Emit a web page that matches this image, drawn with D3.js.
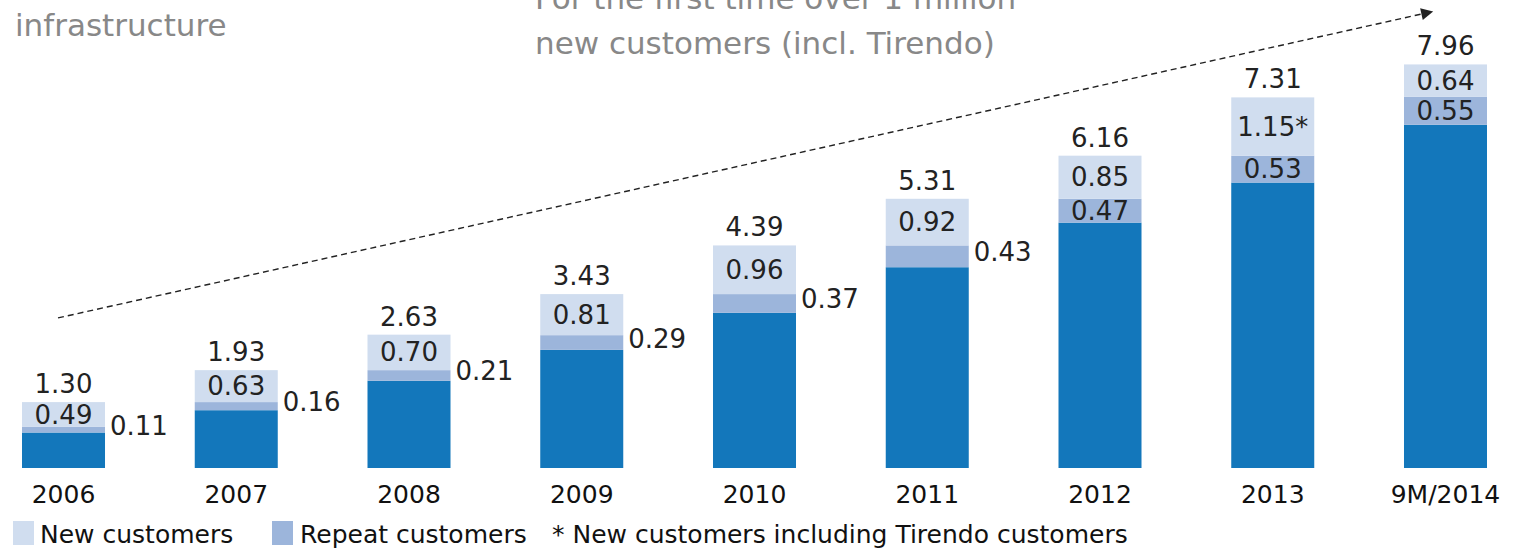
<!DOCTYPE html>
<html>
<head>
<meta charset="utf-8">
<script src="https://cdn.jsdelivr.net/npm/d3@7"></script>
<style>
  html, body { margin: 0; padding: 0; background: #fff; }
  svg { display: block; font-family: "DejaVu Sans", sans-serif; }
</style>
</head>
<body>
<div id="chart"></div>
<script>
const years = ["2006", "2007", "2008", "2009", "2010", "2011", "2012", "2013", "9M/2014"];
const totals = [1.30, 1.93, 2.63, 3.43, 4.39, 5.31, 6.16, 7.31, 7.96];
const newCust = [0.49, 0.63, 0.70, 0.81, 0.96, 0.92, 0.85, 1.15, 0.64];
const repeatCust = [0.11, 0.16, 0.21, 0.29, 0.37, 0.43, 0.47, 0.53, 0.55];
const newLabels = ["0.49", "0.63", "0.70", "0.81", "0.96", "0.92", "0.85", "1.15*", "0.64"];
// repeat label sits beside the bar up to 2011, inside it afterwards
const repeatInside = [false, false, false, false, false, false, true, true, true];

const width = 1522, height = 548;
const colors = { base: "#1377bb", repeat: "#9cb5db", fresh: "#d0ddef" };

const svg = d3.select("#chart").append("svg")
  .attr("width", width)
  .attr("height", height);

const x = d3.scaleBand()
  .domain(years)
  .range([22, 1487])
  .paddingInner(0.5195)
  .paddingOuter(0);

const y = d3.scaleLinear()
  .domain([0, 8])
  .range([468, 468 - 8 * 50.7]);

const data = years.map((yr, i) => ({
  year: yr,
  total: totals[i],
  fresh: newCust[i],
  repeat: repeatCust[i],
  base: totals[i] - newCust[i] - repeatCust[i],
  newLabel: newLabels[i],
  inside: repeatInside[i]
}));

const bars = svg.append("g").selectAll("g")
  .data(data)
  .enter()
  .append("g");

// base segment
bars.append("rect")
  .attr("x", d => x(d.year))
  .attr("width", x.bandwidth())
  .attr("y", d => y(d.base))
  .attr("height", d => y(0) - y(d.base))
  .attr("fill", colors.base);

// repeat customers
bars.append("rect")
  .attr("x", d => x(d.year))
  .attr("width", x.bandwidth())
  .attr("y", d => y(d.base + d.repeat))
  .attr("height", d => y(d.base) - y(d.base + d.repeat))
  .attr("fill", colors.repeat);

// new customers
bars.append("rect")
  .attr("x", d => x(d.year))
  .attr("width", x.bandwidth())
  .attr("y", d => y(d.total))
  .attr("height", d => y(d.base + d.repeat) - y(d.total))
  .attr("fill", colors.fresh);

const labelFont = 26;

// totals
bars.append("text")
  .attr("x", d => x(d.year) + x.bandwidth() / 2)
  .attr("y", d => y(d.total) - 9)
  .attr("text-anchor", "middle")
  .attr("font-size", labelFont)
  .attr("fill", "#222")
  .text(d => d.total.toFixed(2));

// new customer labels
bars.append("text")
  .attr("x", d => x(d.year) + x.bandwidth() / 2)
  .attr("y", d => (y(d.total) + y(d.base + d.repeat)) / 2 + 9)
  .attr("text-anchor", "middle")
  .attr("font-size", labelFont)
  .attr("fill", "#222")
  .text(d => d.newLabel);

// repeat customer labels
bars.append("text")
  .attr("x", d => d.inside ? x(d.year) + x.bandwidth() / 2 : x(d.year) + x.bandwidth() + 5)
  .attr("y", d => {
    const mid = (y(d.base) + y(d.base + d.repeat)) / 2;
    return d.inside ? mid + 9 : mid + 5;
  })
  .attr("text-anchor", d => d.inside ? "middle" : "start")
  .attr("font-size", labelFont)
  .attr("fill", "#222")
  .text(d => d.repeat.toFixed(2));

// category axis labels
svg.append("g").selectAll("text")
  .data(years)
  .enter()
  .append("text")
  .attr("x", d => x(d) + x.bandwidth() / 2)
  .attr("y", 503)
  .attr("text-anchor", "middle")
  .attr("font-size", 25)
  .attr("fill", "#111")
  .text(d => d);

// dashed trend arrow
svg.append("defs").append("marker")
  .attr("id", "arrow")
  .attr("viewBox", "0 0 10 10")
  .attr("refX", 9)
  .attr("refY", 5)
  .attr("markerWidth", 6)
  .attr("markerHeight", 6)
  .attr("markerUnits", "userSpaceOnUse")
  .attr("orient", "auto")
  .append("path")
  .attr("d", "M0,0 L10,5 L0,10 z")
  .attr("fill", "#222");

svg.select("#arrow").attr("markerWidth", 16).attr("markerHeight", 12);

svg.append("line")
  .attr("x1", x("2006") + 36)
  .attr("y1", y(2.96))
  .attr("x2", x("9M/2014") + 28)
  .attr("y2", y(9.0))
  .attr("stroke", "#222")
  .attr("stroke-width", 1.4)
  .attr("stroke-dasharray", "6,4")
  .attr("marker-end", "url(#arrow)");

// annotations (cropped in the original)
svg.append("text")
  .attr("x", 15)
  .attr("y", 36)
  .attr("font-size", 31)
  .attr("fill", "#888")
  .text("infrastructure");

svg.append("text")
  .attr("x", 535)
  .attr("y", 9)
  .attr("font-size", 31)
  .attr("fill", "#888")
  .text("For the first time over 1 million");

svg.append("text")
  .attr("x", 535)
  .attr("y", 54)
  .attr("font-size", 31)
  .attr("fill", "#888")
  .text("new customers (incl. Tirendo)");

// legend
const legend = svg.append("g");
legend.append("rect").attr("x", 13).attr("y", 521).attr("width", 21).attr("height", 24).attr("fill", colors.fresh);
legend.append("text").attr("x", 40).attr("y", 543).attr("font-size", 25).attr("fill", "#111").text("New customers");
legend.append("rect").attr("x", 272).attr("y", 521).attr("width", 21).attr("height", 24).attr("fill", colors.repeat);
legend.append("text").attr("x", 300).attr("y", 543).attr("font-size", 25).attr("fill", "#111").text("Repeat customers");
legend.append("text").attr("x", 552).attr("y", 543).attr("font-size", 25).attr("fill", "#111").text("* New customers including Tirendo customers");
</script>
</body>
</html>
